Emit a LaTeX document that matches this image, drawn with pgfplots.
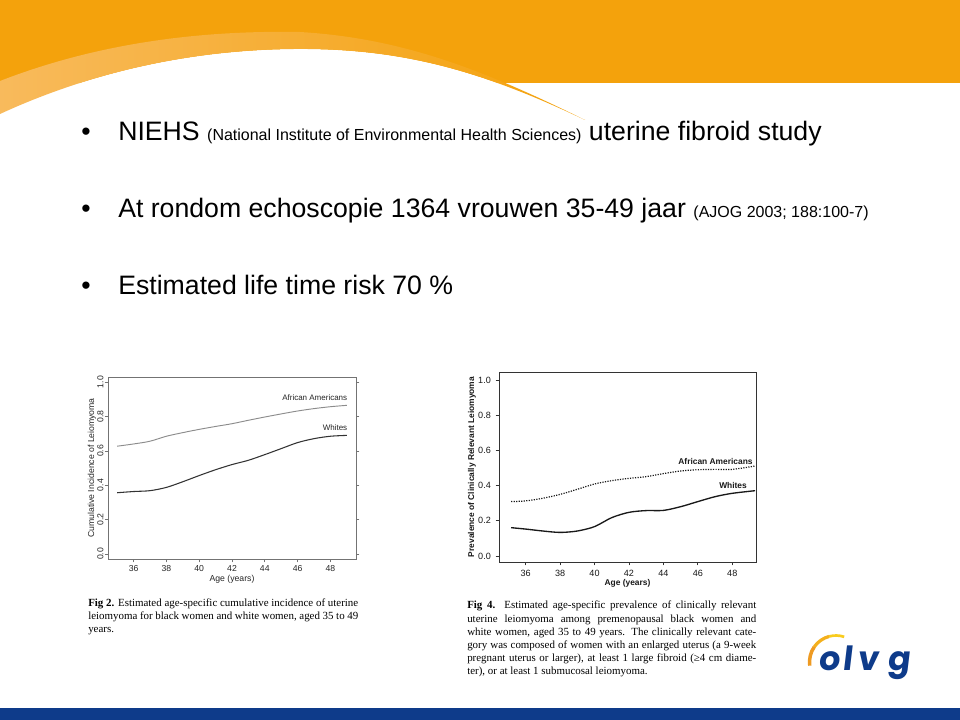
\documentclass[border=0pt]{standalone}
\usepackage{fontspec}
\setmainfont{Liberation Sans}
\newfontfamily\capfont{Liberation Serif}
\newfontfamily\logofont[FakeSlant=0.12]{Poppins}
\usepackage{pgfplots}
\pgfplotsset{compat=1.18}

\definecolor{hdrorange}{HTML}{F4A20C}
\definecolor{hdrlight}{HTML}{F8BA5C}
\definecolor{navy}{HTML}{0E3B8A}
\definecolor{arcA}{HTML}{EE9A22}
\definecolor{arcB}{HTML}{F4B01C}
\definecolor{arcC}{HTML}{F9CC1E}
\newcommand{\fs}[1]{\fontsize{#1}{#1}\selectfont}

% data
\pgfplotstableread{
age  aa     wh
35   0.627  0.356
36   0.640  0.363
37   0.656  0.368
38   0.685  0.387
39   0.706  0.420
40   0.725  0.456
41   0.742  0.490
42   0.758  0.520
43   0.778  0.545
44   0.797  0.578
45   0.815  0.613
46   0.832  0.648
47   0.846  0.671
48   0.857  0.685
49   0.865  0.690
}\figtwo

\pgfplotstableread{
age    aa     wh
35.15  0.309  0.161
36     0.313  0.153
37     0.328  0.142
38     0.350  0.134
39     0.379  0.142
40     0.409  0.167
41     0.428  0.218
42     0.441  0.248
43     0.451  0.258
44     0.468  0.259
45     0.483  0.280
46     0.490  0.309
47     0.492  0.337
48     0.492  0.356
49.33  0.511  0.371
}\figfour

\begin{document}
\begin{tikzpicture}
% slide background, in pixel units
\begin{scope}[x=0.75pt,y=-0.75pt]
  \fill[white] (0,0) rectangle (960,720);
  \fill[hdrorange] (0,0) rectangle (960,83);
  \fill[white] (0,114) .. controls (80,77) and (180,50) .. (294,49)
     .. controls (400,48) and (480,70) .. (585,120) -- (0,125) -- cycle;
  \shade[left color=hdrlight, middle color=hdrlight!55!hdrorange, right color=hdrorange]
     (0,81) .. controls (90,46) and (190,30) .. (300,32)
     .. controls (400,38) and (480,68) .. (585,120)
     .. controls (480,70) and (400,48) .. (294,49)
     .. controls (180,50) and (80,77) .. (0,114) -- cycle;
  \fill[navy] (0,708) rectangle (960,720);

  % bullets
  \foreach \yy in {141,218,295}
    \node[anchor=base west, inner sep=0] at (81,\yy) {\fs{20}\textbullet};
  \node[anchor=base west, inner sep=0] at (118,141)
    {\fs{20}NIEHS {\fs{12}(National Institute of Environmental Health Sciences)} uterine fibroid study};
  \node[anchor=base west, inner sep=0] at (118,218)
    {\fs{20}At rondom echoscopie 1364 vrouwen 35-49 jaar {\fs{12}(AJOG 2003; 188:100-7)}};
  \node[anchor=base west, inner sep=0] at (118,295)
    {\fs{20}Estimated life time risk 70 \%};

  % captions
  \node[anchor=north west, inner sep=0, text width=202.5pt, align=justify,
        font=\capfont\fontsize{8.2}{9.6}\selectfont] at (88,599)
    {\textbf{Fig 2.} Estimated age-specific cumulative incidence of uterine\linebreak
     leiomyoma for black women and white women, aged 35 to 49\linebreak years.};
  \node[anchor=north west, inner sep=0, text width=216.75pt, align=justify,
        font=\capfont\fontsize{8.2}{9.9}\selectfont] at (467,601)
    {\textbf{Fig 4.} Estimated age-specific prevalence of clinically relevant\linebreak
     uterine leiomyoma among premenopausal black women and\linebreak
     white women, aged 35 to 49 years. The clinically relevant cate-\linebreak
     gory was composed of women with an enlarged uterus (a 9-week\linebreak
     pregnant uterus or larger), at least 1 large fibroid (≥4 cm diame-\linebreak
     ter), or at least 1 submucosal leiomyoma.};

  % logo
  \draw[arcA, line width=2.6pt] (836,662) ++(172:26.5) arc[start angle=172, end angle=215, radius=26.5];
  \draw[arcB, line width=2.4pt] (836,662) ++(215:26.5) arc[start angle=215, end angle=255, radius=26.5];
  \draw[arcC, line width=2pt] (836,662) ++(255:26.5) arc[start angle=255, end angle=288, radius=26.5];
  \foreach \c/\xx in {o/829,l/847,v/868,g/899}
    \node[anchor=base, inner sep=0, text=navy] at (\xx,670) {\logofont\bfseries\fs{25}\c};
\end{scope}

% Fig 2
\begin{axis}[
  at={(81pt,-419.25pt)}, anchor=south west,
  scale only axis, width=186pt, height=136.5pt,
  xmin=34.44, xmax=49.56, ymin=-0.03, ymax=1.03,
  axis line style={draw=black!55, line width=0.5pt},
  tick align=outside, major tick length=2.6pt,
  tick style={draw=black!55, line width=0.5pt},
  xtick pos=bottom, ytick pos=both, yticklabel pos=left,
  xtick={36,38,40,42,44,46,48}, xticklabels={36,38,40,42,44,46,48},
  ytick={0,0.2,0.4,0.6,0.8,1}, yticklabels={0.0,0.2,0.4,0.6,0.8,1.0},
  ticklabel style={font=\fs{6.5}, text=black!85},
  yticklabel style={xshift=2.8pt, rotate=90, anchor=south},
  xticklabel style={yshift=1.5pt},
  xlabel={Age (years)}, ylabel={Cumulative Incidence of Leiomyoma},
  label style={font=\fs{6.5}, text=black!85},
  xlabel style={at={(axis description cs:0.5,-0.112)}, anchor=center},
  ylabel style={at={(axis description cs:-0.0645,0.5)}, anchor=center},
  /pgf/number format/assume math mode=true,
]
\addplot[black!45, line width=0.7pt, smooth] table[x=age, y=aa] {\figtwo};
\addplot[black!80, line width=0.8pt, smooth] table[x=age, y=wh] {\figtwo};
\node[anchor=east, inner sep=0, font=\fs{6}, text=black!85] at (axis cs:49.04,0.907) {African Americans};
\node[anchor=east, inner sep=0, font=\fs{6}, text=black!85] at (axis cs:49.04,0.733) {Whites};
\end{axis}

% Fig 4
\begin{axis}[
  at={(374.25pt,-421.5pt)}, anchor=south west,
  scale only axis, width=192.75pt, height=142.5pt,
  xmin=34.45, xmax=49.38, ymin=-0.034, ymax=1.045,
  axis line style={draw=black!80, line width=0.5pt},
  tick align=outside, major tick length=2.6pt,
  tick style={draw=black!80, line width=0.5pt},
  xtick pos=bottom, ytick pos=left,
  xtick={36,38,40,42,44,46,48}, xticklabels={36,38,40,42,44,46,48},
  ytick={0,0.2,0.4,0.6,0.8,1}, yticklabels={0.0,0.2,0.4,0.6,0.8,1.0},
  ticklabel style={font=\fs{6.8}, text=black!90},
  xlabel={Age (years)}, ylabel={Prevalence of Clinically Relevant Leiomyoma},
  label style={font=\bfseries\fs{6.3}, text=black!90},
  xlabel style={at={(axis description cs:0.5,-0.11)}, anchor=center},
  ylabel style={at={(axis description cs:-0.105,0.5)}, anchor=center},
  /pgf/number format/assume math mode=true,
]
\addplot[black!90, line width=0.9pt, densely dotted, smooth] table[x=age, y=aa] {\figfour};
\addplot[black!90, line width=1pt, smooth] table[x=age, y=wh] {\figfour};
\node[anchor=east, inner sep=0, font=\bfseries\fs{6.3}, text=black!90] at (axis cs:49.2,0.534) {African Americans};
\node[anchor=east, inner sep=0, font=\bfseries\fs{6.3}, text=black!90] at (axis cs:48.86,0.398) {Whites};
\end{axis}
\end{tikzpicture}
\end{document}
